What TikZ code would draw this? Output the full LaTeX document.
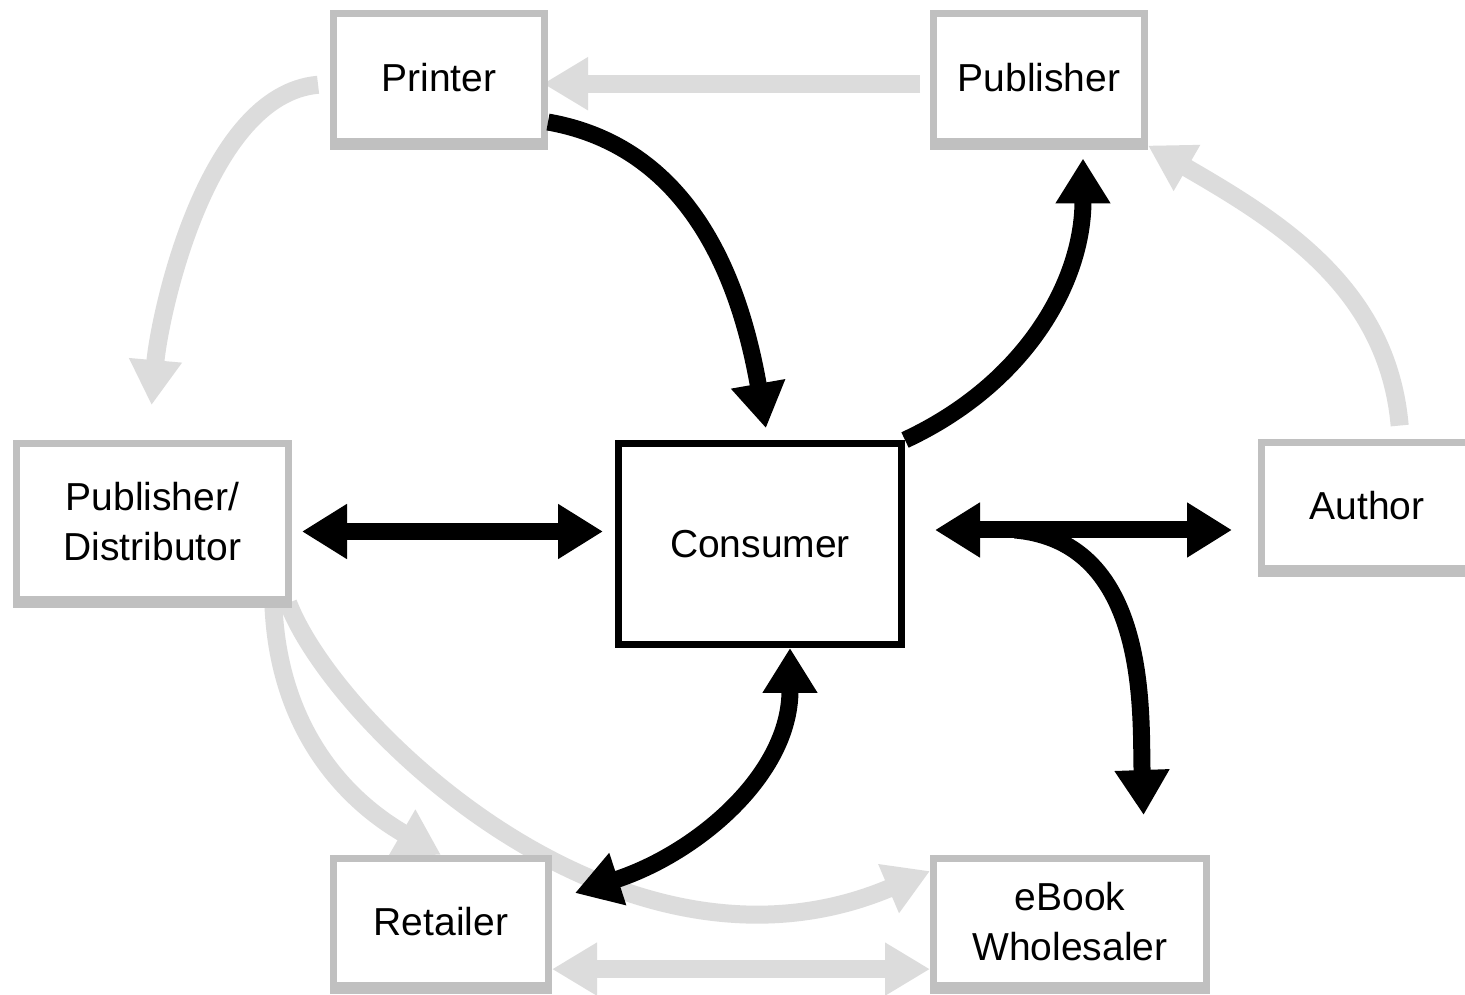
\documentclass[tikz,border=0pt]{standalone}
\usepackage{fontspec}
\setmainfont{Liberation Sans}
\usetikzlibrary{arrows.meta,backgrounds}

\definecolor{boxgray}{HTML}{C0C0C0}
\definecolor{flowgray}{HTML}{DCDCDC}

\tikzset{
  box/.style={draw=boxgray, line width=7pt, fill=white, align=center,
              font=\fontsize{39}{50}\selectfont, minimum height=128pt},
  hub/.style={box, draw=black},
  dark/.style={line width=17pt, -{Triangle[width=52pt,length=45pt]}},
  darkboth/.style={line width=17pt, {Triangle[width=52pt,length=45pt]}-{Triangle[width=52pt,length=45pt]}},
  pale/.style={draw=flowgray, line width=18pt, -{Triangle[width=50pt,length=45pt]}},
  paleboth/.style={draw=flowgray, line width=18pt, {Triangle[width=50pt,length=45pt]}-{Triangle[width=50pt,length=45pt]}}
}

\begin{document}
\begin{tikzpicture}[x=1pt, y=1pt]
    \useasboundingbox (0,0) rectangle (1465,994);
    \clip (0,0) rectangle (1465,994);

    % the seven parties
    \node[box, minimum width=211pt] (Printer) at (439,916) {Printer};
    \node[box, minimum width=211pt] (Publisher) at (1039,916) {Publisher};
    \node[box, minimum width=272pt, minimum height=156pt] (PubDist) at (152.5,472.5) {Publisher/\\Distributor};
    \node[hub, minimum width=283pt, minimum height=201pt] (Consumer) at (760,450) {Consumer};
    \node[box, minimum width=211pt, minimum height=126pt] (Author) at (1367,488) {Author};
    \node[box, minimum width=215pt, minimum height=127pt] (Retailer) at (441,72) {Retailer};
    \node[box, minimum width=273pt, minimum height=127pt] (eBook) at (1070,72) {eBook\\Wholesaler};

    \foreach \n in {Printer,Publisher,PubDist,Author,Retailer,eBook}
        \draw[boxgray, line width=5pt] ([yshift=-2.5pt]\n.south west) -- ([yshift=-2.5pt]\n.south east);

    % print flows in light gray
    \begin{pgfonlayer}{background}
        \fill[white] (0,0) rectangle (1465,994);
        \draw[pale, shorten <=10pt, shorten >=-5pt] (Publisher.183) -- (Publisher.183 -| Printer.east);
        \draw[pale, shorten <=12pt, shorten >=35pt] (Printer.183) to[out=185,in=85,looseness=0.8] ([xshift=-4pt]PubDist.north);
        \draw[pale, shorten <=14pt] (Author.63) to[out=95,in=-30] (Publisher.south east);
        \draw[pale] (PubDist.-34) to[out=-88,in=150] (Retailer.north);
        \draw[pale] (PubDist.-31) .. controls +(-69:131) and +(203:335) .. (eBook.160);
        \draw[paleboth] (Retailer.-23) -- (Retailer.-23 -| eBook.west);
    \end{pgfonlayer}

    % digital flows in black
    \coordinate (fork) at ([xshift=110pt,yshift=14pt]Consumer.east);
    \draw[dark, shorten >=12pt] (Printer.-22) to[out=-10,in=100] ([xshift=8pt]Consumer.north);
    \draw[dark, shorten >=13pt] (Consumer.north east) to[out=25,in=-90] ([xshift=44pt]Publisher.south);
    \draw[darkboth, shorten <=10pt, shorten >=12pt] ([yshift=-10pt]PubDist.east) -- ([yshift=-10pt]PubDist.east -| Consumer.west);
    \draw[darkboth, shorten <=30pt, shorten >=26pt] ([yshift=14pt]Consumer.east) -- ([yshift=14pt]Consumer.east -| Author.west);
    \draw[dark, shorten >=40pt] (fork) to[out=-5,in=92] ([xshift=75pt]eBook.north);
    \draw[darkboth] ([xshift=30pt]Consumer.south) to[out=-90,in=18] ([xshift=23pt,yshift=-38pt]Retailer.north east);
\end{tikzpicture}
\end{document}
